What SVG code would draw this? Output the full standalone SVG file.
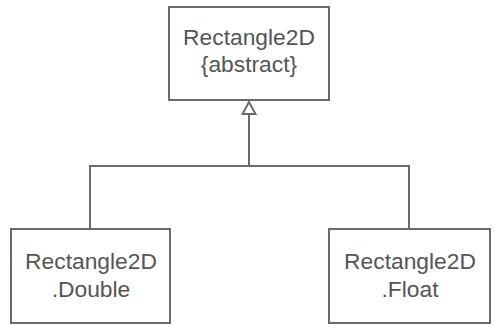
<svg xmlns="http://www.w3.org/2000/svg" width="495" height="325" viewBox="0 0 495 325">
<defs>
<style>
.box{fill:#fff;stroke:#6a6a6a;stroke-width:2}
.t{font-family:"Liberation Sans",Arial,sans-serif;font-size:22.8px;fill:#555;text-anchor:middle}
.c{fill:none;stroke:#6a6a6a;stroke-width:2}
.head{fill:#fff;stroke:#6a6a6a;stroke-width:2}
</style>
</defs>
<rect width="495" height="325" fill="#fff"/>
<g id="connectors">
<polyline class="c" points="90,229 90,166 409,166 409,229"/>
<line class="c" x1="249" y1="166" x2="249" y2="114"/>
<polygon class="head" points="249,102 242.5,114 255.5,114"/>
</g>
<g id="rect2d">
<rect class="box" x="169" y="7" width="160" height="93"/>
<text class="t" x="249" y="45">Rectangle2D</text>
<text class="t" x="249" y="72">{abstract}</text>
</g>
<g id="double">
<rect class="box" x="11" y="229" width="159" height="94"/>
<text class="t" x="91" y="269">Rectangle2D</text>
<text class="t" x="91" y="297">.Double</text>
</g>
<g id="float">
<rect class="box" x="329" y="229" width="161" height="94"/>
<text class="t" x="410" y="269">Rectangle2D</text>
<text class="t" x="410" y="297">.Float</text>
</g>
</svg>
